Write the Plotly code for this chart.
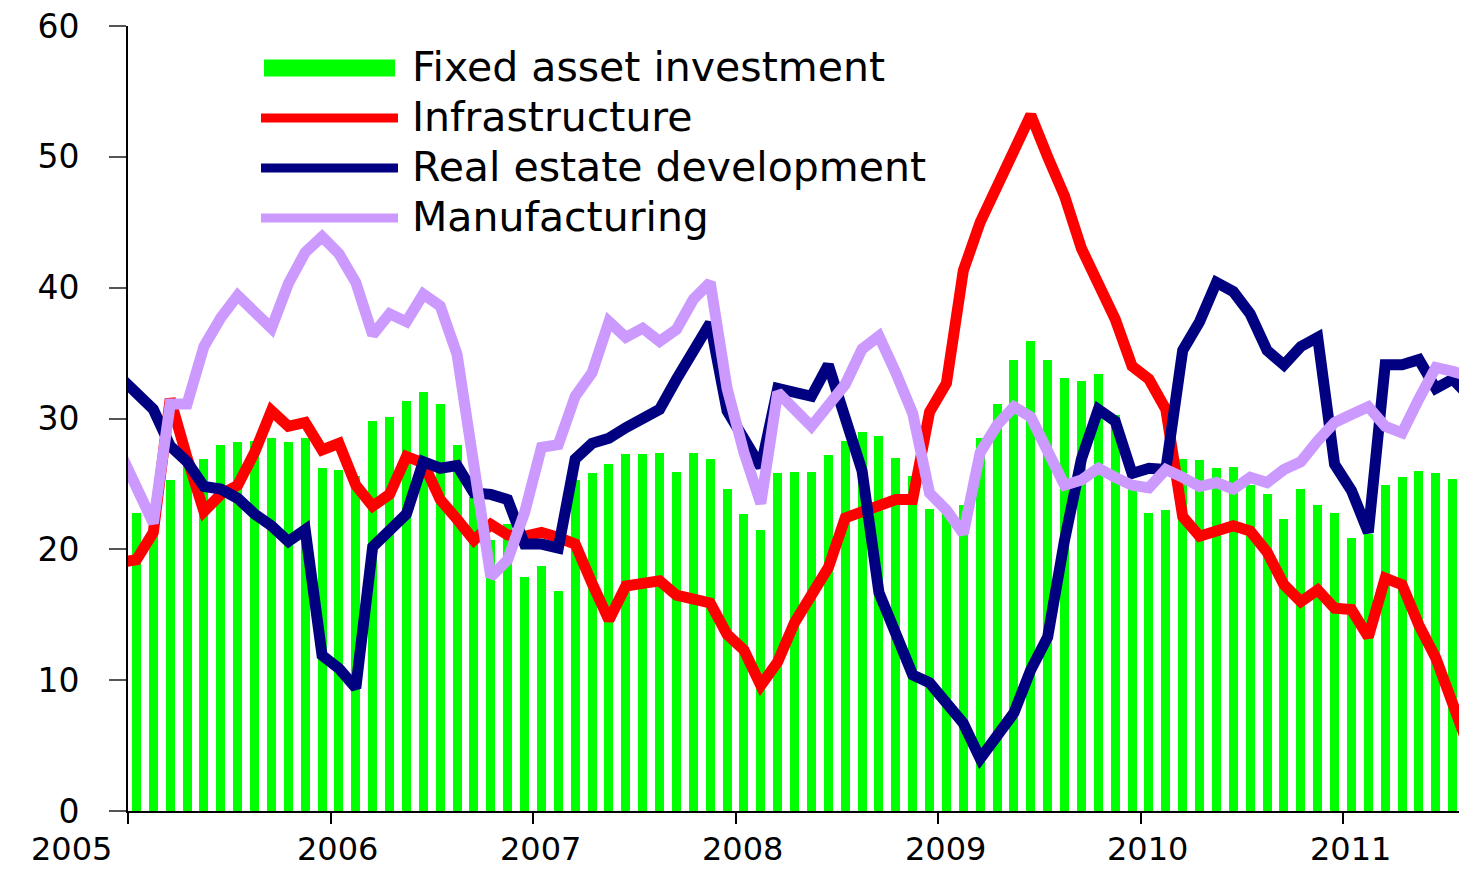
import plotly.graph_objects as go
import pandas as pd

# ---------------- data ----------------
# line series start one month before the axis (Dec 2004) so they run into the y-axis
line_months = pd.period_range("2004-12", "2011-08", freq="M")
bar_months = pd.period_range("2005-01", "2011-08", freq="M")

fixed_asset = [22.8, 22.3, 25.3, 26.5, 26.9, 28.0, 28.2, 28.3, 28.5, 28.2, 28.5, 26.2,
               26.1, 25.6, 29.8, 30.1, 31.3, 32.0, 31.1, 28.0, 24.0, 20.7, 21.9, 17.9,
               18.7, 16.8, 25.3, 25.8, 26.5, 27.3, 27.3, 27.4, 25.9, 27.4, 26.9, 24.6,
               22.7, 21.5, 25.8, 25.9, 25.9, 27.2, 28.3, 29.0, 28.7, 27.0, 25.6, 23.1,
               22.9, 23.4, 28.5, 31.1, 34.5, 35.9, 34.5, 33.1, 32.9, 33.4, 30.3, 25.2,
               22.8, 23.0, 26.9, 26.8, 26.2, 26.3, 24.9, 24.2, 22.3, 24.6, 23.4, 22.8,
               20.9, 21.2, 24.9, 25.5, 26.0, 25.8, 25.4, 24.3]

infrastructure = [19.0,
                  19.2, 21.3, 31.5, 27.0, 22.9, 24.2, 24.9, 27.4, 30.6, 29.4, 29.7, 27.6,
                  28.1, 24.9, 23.3, 24.2, 27.1, 26.6, 23.8, 22.3, 20.7, 21.9, 21.1, 21.0,
                  21.3, 20.9, 20.4, 17.4, 14.6, 17.2, 17.3, 17.6, 16.5, 16.2, 15.9, 13.5,
                  12.3, 9.6, 11.4, 14.4, 16.7, 18.6, 22.4, 22.8, 23.3, 23.8, 23.8, 30.5,
                  32.7, 41.3, 45.0, 47.6, 50.2, 53.2, 50.0, 47.0, 43.0, 40.5, 37.6, 34.0,
                  33.0, 30.7, 22.5, 21.0, 21.3, 21.8, 21.4, 19.8, 17.3, 16.0, 16.9, 15.5,
                  15.4, 13.3, 17.8, 17.3, 14.2, 11.7, 8.2, 4.7]

real_estate = [33.2,
               31.8, 30.7, 27.9, 26.7, 24.8, 24.6, 23.9, 22.7, 21.8, 20.6, 21.5, 11.9,
               10.9, 9.4, 20.2, 21.6, 22.7, 26.7, 26.2, 26.4, 24.3, 24.2, 23.8, 20.4,
               20.4, 20.1, 26.9, 28.1, 28.5, 29.3, 30.1, 30.7, 33.0, 35.3, 37.3, 30.6,
               28.4, 26.3, 32.3, 32.0, 31.7, 34.1, 30.2, 26.0, 16.7, 13.8, 10.4, 9.8,
               8.1, 6.7, 4.0, 5.7, 7.5, 10.8, 13.3, 20.7, 26.9, 30.7, 29.8, 25.8,
               26.2, 26.1, 35.2, 37.4, 40.4, 39.7, 38.0, 35.2, 34.1, 35.5, 36.2, 26.5,
               24.5, 21.3, 34.1, 34.1, 34.5, 32.3, 33.0, 31.7]

manufacturing = [27.5,
                 24.8, 22.0, 31.1, 31.1, 35.5, 37.7, 39.4, 38.2, 36.9, 40.3, 42.7, 43.9,
                 42.6, 40.4, 36.4, 38.0, 37.4, 39.5, 38.6, 34.9, 26.5, 17.9, 19.2, 22.8,
                 27.8, 28.0, 31.7, 33.5, 37.4, 36.2, 36.9, 35.9, 36.8, 39.1, 40.4, 32.3,
                 27.4, 23.5, 32.0, 30.7, 29.4, 31.0, 32.6, 35.3, 36.3, 33.5, 30.4, 24.3,
                 23.0, 21.2, 27.4, 29.5, 30.9, 30.1, 27.4, 24.9, 25.3, 26.2, 25.5, 24.9,
                 24.7, 26.1, 25.5, 24.8, 25.1, 24.6, 25.5, 25.1, 26.1, 26.7, 28.3, 29.7,
                 30.3, 30.9, 29.4, 28.9, 31.5, 33.9, 33.6, 33.2]

years = [2005, 2006, 2007, 2008, 2009, 2010, 2011]
series_names = ["Fixed asset investment", "Infrastructure",
                "Real estate development", "Manufacturing"]

# ---------------- styling ----------------
GREEN, RED, NAVY, LAVENDER = "#00FF00", "#FF0000", "#000080", "#CC99FF"
FONT = "DejaVu Sans"


def month_center(p):
    return p.year + (p.month - 0.5) / 12.0


x_line = [month_center(p) for p in line_months]
x_bar = [month_center(p) for p in bar_months]

fig = go.Figure()
fig.add_trace(go.Bar(x=x_bar, y=fixed_asset, width=0.53 / 12,
                     marker=dict(color=GREEN, line=dict(width=0)),
                     name=series_names[0], showlegend=False))
for vals, col, nm in [(infrastructure, RED, series_names[1]),
                      (real_estate, NAVY, series_names[2]),
                      (manufacturing, LAVENDER, series_names[3])]:
    fig.add_trace(go.Scatter(x=x_line, y=vals, mode="lines", name=nm,
                             line=dict(color=col, width=11), showlegend=False))

# page is offset by the browser's 8px body margin; size the figure so the
# plot area lands at page x 128..1467 and page y 26..811 without scrollbars
OFF = 8
W, H = 1459, 860
L, R, T, B = 120, 0, 18, 57
pw, ph = W - L - R, H - T - B


def px_x(page_x):
    return (page_x - OFF - L) / pw


def px_y(page_y):
    return (H - B - (page_y - OFF)) / ph


# custom legend (long symbols as in the original)
shapes = [dict(type="rect", xref="paper", yref="paper",
               x0=px_x(264), x1=px_x(395), y0=px_y(76.5), y1=px_y(59.5),
               fillcolor=GREEN, line=dict(width=0), layer="above")]
legend_rows = [(RED, 118), (NAVY, 168), (LAVENDER, 218)]
for col, yy in legend_rows:
    shapes.append(dict(type="line", xref="paper", yref="paper",
                       x0=px_x(261), x1=px_x(398), y0=px_y(yy), y1=px_y(yy),
                       line=dict(color=col, width=9), layer="above"))

annotations = []
for nm, yy in zip(series_names, [67, 117, 167, 217]):
    annotations.append(dict(text=nm, xref="paper", yref="paper",
                            x=px_x(410), y=px_y(yy), xanchor="left", yanchor="middle",
                            showarrow=False, font=dict(family=FONT, size=41, color="black")))

# year labels (first one sits left of the axis, as in the original)
year_shift = [-57, 7, 7, 7, 7, 7, 7]
for yr, sh in zip(years, year_shift):
    annotations.append(dict(text=str(yr), xref="x", yref="paper", x=yr, y=0,
                            xanchor="center", yanchor="middle", xshift=sh, yshift=-38,
                            showarrow=False, font=dict(family=FONT, size=32, color="black")))

fig.update_layout(
    width=W, height=H,
    margin=dict(l=L, r=R, t=T, b=B, pad=0),
    plot_bgcolor="white", paper_bgcolor="white",
    bargap=0, showlegend=False,
    shapes=shapes, annotations=annotations,
    xaxis=dict(range=[2005, 2005 + pw / 202.5], tickvals=years,
               showticklabels=False, ticks="outside", ticklen=11, tickwidth=2,
               tickcolor="black", showline=True, linecolor="black", linewidth=2,
               showgrid=False, zeroline=False),
    yaxis=dict(range=[0, 60], tick0=0, dtick=10, ticks="outside", ticklen=17,
               tickwidth=2, tickcolor="#555555", showline=True, linecolor="black",
               linewidth=2, showgrid=False, zeroline=False,
               ticklabelstandoff=23, ticklabeloverflow="allow",
               tickfont=dict(family=FONT, size=33, color="black")),
)

fig.write_html("out.html")
